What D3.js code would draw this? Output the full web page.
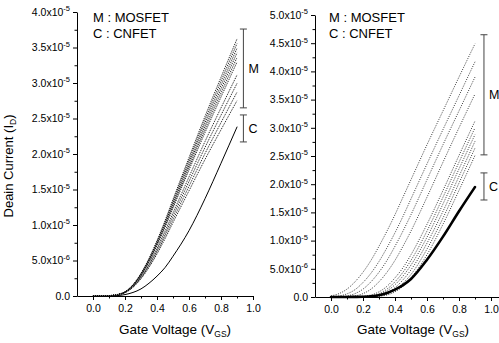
<!DOCTYPE html>
<html><head><meta charset="utf-8">
<script src="https://cdn.jsdelivr.net/npm/d3@7"></script>
<style>
body{margin:0;background:#fff}
svg{display:block}
text{font-family:Arial,"Liberation Sans",Helvetica,sans-serif;fill:#000}
</style>
</head><body><svg id="c" width="499" height="343"></svg>
<script>
// Gate voltage sample points (V)
const vgs = [0,0.05,0.1,0.15,0.2,0.25,0.3,0.35,0.4,0.45,0.5,0.6,0.7,0.8,0.9];

// Left panel: drain current, units of 1e-5 A
const leftMosfet = [
  [0,0.001,0.005,0.02,0.06,0.16,0.32,0.53,0.78,1.06,1.36,1.95,2.53,3.08,3.62],
  [0,0.001,0.005,0.02,0.059,0.157,0.314,0.52,0.766,1.041,1.336,1.915,2.484,3.025,3.555],
  [0,0.001,0.005,0.019,0.058,0.154,0.308,0.511,0.752,1.022,1.311,1.88,2.439,2.969,3.49],
  [0,0.001,0.005,0.019,0.057,0.151,0.303,0.501,0.738,1.003,1.287,1.845,2.393,2.914,3.425],
  [0,0.001,0.005,0.019,0.056,0.148,0.297,0.492,0.724,0.984,1.262,1.81,2.348,2.858,3.359],
  [0,0.001,0.005,0.018,0.055,0.146,0.291,0.482,0.71,0.965,1.238,1.775,2.302,2.803,3.294],
  [0,0.001,0.004,0.017,0.052,0.138,0.275,0.456,0.671,0.912,1.17,1.677,2.176,2.649,3.113],
  [0,0.001,0.004,0.017,0.05,0.132,0.265,0.438,0.645,0.877,1.125,1.613,2.092,2.547,2.994],
  [0,0.001,0.004,0.016,0.048,0.127,0.254,0.42,0.619,0.841,1.078,1.546,2.006,2.442,2.871],
  [0,0.001,0.004,0.015,0.046,0.122,0.243,0.403,0.593,0.806,1.034,1.482,1.923,2.341,2.751]
];
const leftCnfet = [0,0,0.001,0.005,0.02,0.05,0.1,0.18,0.28,0.4,0.56,0.92,1.37,1.87,2.38];

// Right panel: drain current, units of 1e-5 A
const rightMosfet = [
  [0.02,0.06,0.14,0.27,0.44,0.65,0.9,1.17,1.46,1.77,2.08,2.7,3.3,3.9,4.49],
  [0.009,0.019,0.056,0.13,0.257,0.423,0.63,0.875,1.14,1.43,1.74,2.36,2.97,3.57,4.17],
  [0.006,0.01,0.02,0.06,0.14,0.27,0.44,0.65,0.9,1.17,1.46,2.08,2.7,3.3,3.9],
  [0.004,0.006,0.01,0.02,0.06,0.14,0.27,0.44,0.65,0.9,1.17,1.77,2.39,3.0,3.6],
  [0.001,0.003,0.005,0.008,0.014,0.036,0.092,0.19,0.34,0.52,0.75,1.29,1.89,2.51,3.12],
  [0.001,0.002,0.004,0.006,0.01,0.02,0.06,0.14,0.27,0.44,0.65,1.17,1.77,2.39,3.0],
  [0,0.001,0.003,0.005,0.008,0.014,0.044,0.108,0.218,0.372,0.566,1.06,1.65,2.27,2.88],
  [0,0.001,0.002,0.004,0.007,0.012,0.028,0.076,0.166,0.304,0.482,0.954,1.52,2.14,2.76],
  [0,0.001,0.002,0.003,0.006,0.009,0.018,0.052,0.124,0.244,0.4,0.85,1.4,2.02,2.64],
  [0,0,0.001,0.002,0.005,0.007,0.014,0.036,0.092,0.19,0.34,0.75,1.29,1.89,2.51]
];
const rightCnfet = [0,0,0,0.002,0.005,0.012,0.03,0.07,0.13,0.21,0.32,0.66,1.07,1.52,1.95];

// Axis ticks
const xTicks = [0,0.2,0.4,0.6,0.8,1.0];
const xMinorTicks = [0.1,0.3,0.5,0.7,0.9];
const leftYTicks = [0,0.5,1,1.5,2,2.5,3,3.5,4];
const leftYMinor = [0.25,0.75,1.25,1.75,2.25,2.75,3.25,3.75];
const rightYTicks = [0,0.5,1,1.5,2,2.5,3,3.5,4,4.5,5];
const rightYMinor = [0.25,0.75,1.25,1.75,2.25,2.75,3.25,3.75,4.25,4.75];

// Legend text and range brackets (values in 1e-5 A)
const legendLines = ["M : MOSFET","C : CNFET"];
const leftBrackets = [{label:"M",top:3.76,bottom:2.65},{label:"C",top:2.55,bottom:2.17}];
const rightBrackets = [{label:"M",top:4.65,bottom:2.52},{label:"C",top:2.2,bottom:1.72}];

const svg = d3.select("#c");
const FONT = 'Arial,"Liberation Sans",sans-serif';

function sciLabel(sel, v){
  const val = v*1e-5;
  sel.text(null);
  if (v === 0){ sel.text("0.0"); return; }
  const e = Math.floor(Math.log10(val)+1e-9);
  const m = val/Math.pow(10,e);
  sel.append("tspan").text(m.toFixed(1)+"x10");
  sel.append("tspan").attr("dy",-4.5).attr("font-size",7.5).text(String(e));
}

function panel(cfg){
  const g = svg.append("g");
  const x = d3.scaleLinear().domain(cfg.xDomain).range(cfg.xRange);
  const y = d3.scaleLinear().domain([0,cfg.yMax]).range(cfg.yRange);
  const y0 = cfg.yRange[0], x0 = cfg.xRange[0];

  const xa = g.append("g").attr("transform",`translate(0,${y0})`)
    .call(d3.axisBottom(x).tickValues(xTicks).tickSize(4).tickSizeOuter(0).tickPadding(5).tickFormat(d3.format(".1f")));
  g.append("g").attr("transform",`translate(0,${y0})`)
    .call(d3.axisBottom(x).tickValues(xMinorTicks).tickSize(2.5).tickSizeOuter(0).tickFormat(""))
    .select(".domain").remove();
  xa.selectAll("text").attr("font-size",10.5).attr("font-family",FONT);

  const ya = g.append("g").attr("transform",`translate(${x0},0)`)
    .call(d3.axisLeft(y).tickValues(cfg.yTicks).tickSize(4).tickSizeOuter(0).tickPadding(3));
  ya.selectAll("text").attr("font-size",10.5).attr("font-family",FONT).each(function(d){ sciLabel(d3.select(this), d); });
  g.append("g").attr("transform",`translate(${x0},0)`)
    .call(d3.axisLeft(y).tickValues(cfg.yMinor).tickSize(2.5).tickSizeOuter(0).tickFormat(""))
    .select(".domain").remove();
  g.selectAll(".domain, .tick line").attr("stroke","#000").attr("stroke-width",1);

  const line = d3.line().x(d=>x(d[0])).y(d=>y(d[1])).curve(d3.curveMonotoneX);

  g.append("g").selectAll("path").data(cfg.mosfet).join("path")
    .attr("d", s => line(vgs.map((v,i)=>[v,s[i]])))
    .attr("fill","none").attr("stroke",cfg.dotC)
    .attr("stroke-width",cfg.dotW).attr("stroke-dasharray",cfg.dash);

  g.append("path").attr("d", line(vgs.map((v,i)=>[v,cfg.cnfet[i]])))
    .attr("fill","none").attr("stroke","#000").attr("stroke-width",cfg.cnW)
    .attr("stroke-linecap","round");

  cfg.brackets.forEach(b=>{
    const bx = x(cfg.bracketX), t = y(b.top), bt = y(b.bottom);
    const bg = g.append("g").attr("stroke","#444").attr("stroke-width",1);
    bg.append("line").attr("x1",bx).attr("x2",bx).attr("y1",t).attr("y2",bt);
    bg.append("line").attr("x1",bx-3.5).attr("x2",bx+3.5).attr("y1",t).attr("y2",t);
    bg.append("line").attr("x1",bx-3.5).attr("x2",bx+3.5).attr("y1",bt).attr("y2",bt);
    g.append("text").attr("x",bx+5).attr("y",(t+bt)/2+4.5)
      .attr("font-size",12.5).text(b.label);
  });

  legendLines.forEach((t,i)=>{
    g.append("text").attr("x",cfg.legendX).attr("y",22+i*16).attr("font-size",13).text(t);
  });

  const xt = g.append("text").attr("x",(x(0)+x(1))/2+2).attr("y",334)
    .attr("text-anchor","middle").attr("font-size",13.5);
  xt.append("tspan").text("Gate Voltage (V");
  xt.append("tspan").attr("font-size",8.5).attr("dy",3).text("GS");
  xt.append("tspan").attr("dy",-3).text(")");
  return {x,y};
}

panel({xDomain:[-0.1,1.0], xRange:[77,253], yMax:4, yRange:[296,12],
  yTicks:leftYTicks, yMinor:leftYMinor, mosfet:leftMosfet, cnfet:leftCnfet,
  dotC:"#111", dotW:1, dash:"1,1", cnW:1, brackets:leftBrackets, bracketX:0.94, legendX:93});

panel({xDomain:[-0.1,1.05], xRange:[315,499], yMax:5, yRange:[297,15],
  yTicks:rightYTicks, yMinor:rightYMinor, mosfet:rightMosfet, cnfet:rightCnfet,
  dotC:"#222", dotW:0.9, dash:"1,1.4", cnW:2.6, brackets:rightBrackets, bracketX:0.956, legendX:329});

const yt = svg.append("text").attr("transform","translate(13,166) rotate(-90)")
  .attr("text-anchor","middle").attr("font-size",13);
yt.append("tspan").text("Deain Current (I");
yt.append("tspan").attr("font-size",8.5).attr("dy",3).text("D");
yt.append("tspan").attr("dy",-3).text(")");
</script>
</body></html>
